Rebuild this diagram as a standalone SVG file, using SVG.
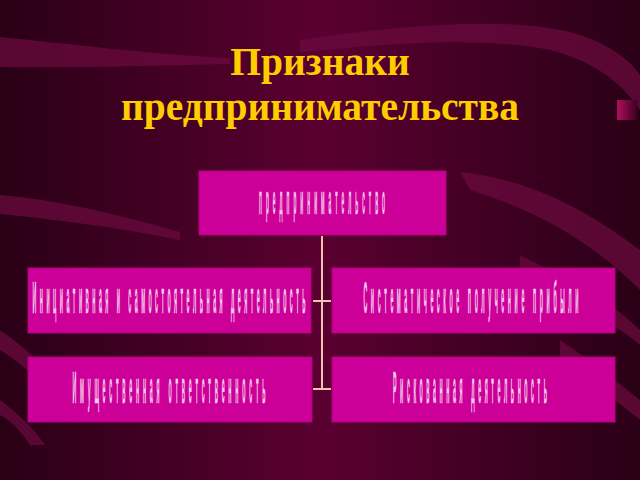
<svg xmlns="http://www.w3.org/2000/svg" width="640" height="480" viewBox="0 0 640 480">
<style>
.title{font-family:"Liberation Serif","Times New Roman",serif;font-weight:bold;font-size:39.5px;fill:#ffcc00;text-anchor:middle}
.box{fill:#cc0099;stroke:#b3007f;stroke-width:1}
.lbl{font-family:"Liberation Sans",Arial,sans-serif;font-weight:bold;fill:#f6cdea;stroke:#f6cdea;stroke-width:0.4;vector-effect:non-scaling-stroke;text-anchor:middle}
.conn{stroke:#f0c4b0;stroke-width:2;fill:none}
.rib{fill:#6a0a3e;opacity:0.75}
</style>
<defs>
<linearGradient id="bg" x1="0" y1="0" x2="1" y2="0">
<stop offset="0" stop-color="#2a0016"/>
<stop offset="0.5" stop-color="#5a0030"/>
<stop offset="1" stop-color="#2a0016"/>
</linearGradient>
<linearGradient id="tab" x1="0" y1="0" x2="1" y2="0">
<stop offset="0" stop-color="#b0105e"/>
<stop offset="1" stop-color="#3a0020"/>
</linearGradient>
</defs>
<g id="background">
<rect width="640" height="480" fill="url(#bg)"/>
<path class="rib" d="M0,37 C80,45 160,55 230,58 L230,64 C150,66 70,68 0,67 Z"/>
<path class="rib" d="M300,40 C400,25 520,15 580,35 C610,45 630,60 640,75 L640,110 C620,80 590,60 550,50 C470,35 380,45 300,52 Z"/>
<path class="rib" d="M0,195 C60,200 120,215 180,232 L180,240 C120,228 60,220 0,214 Z"/>
<path class="rib" d="M460,172 C540,180 600,220 640,250 L640,290 C600,250 550,215 470,190 Z"/>
<path class="rib" d="M520,255 C570,280 610,300 640,330 L640,345 C610,320 570,300 520,275 Z"/>
<path class="rib" d="M560,340 C590,360 615,380 640,400 L640,420 C615,400 590,380 560,365 Z"/>
<path class="rib" d="M0,330 C30,350 60,380 90,420 L70,420 C50,390 25,365 0,350 Z"/>
<path class="rib" d="M0,400 C20,415 35,430 45,445 L30,445 C20,430 10,420 0,415 Z"/>
<rect x="617" y="100" width="20" height="20" fill="url(#tab)"/>
</g>
<g id="title">
<text class="title" x="320" y="75">Признаки</text>
<text class="title" x="320" y="120">предпринимательства</text>
</g>
<g id="connectors">
<path class="conn" d="M322,236 V390"/>
<path class="conn" d="M313,301 H331"/>
<path class="conn" d="M313,389 H331"/>
</g>
<g id="node-top">
<rect class="box" x="199" y="171" width="247" height="64"/>
<text class="lbl" transform="translate(322,214) scale(0.12,1)" x="0" y="0" font-size="40" textLength="1050" lengthAdjust="spacing">предпринимательство</text>
</g>
<g id="node-initiative">
<rect class="box" x="28" y="268" width="283" height="65"/>
<text class="lbl" transform="translate(169,313) scale(0.12,1)" x="0" y="0" font-size="44" textLength="2275" lengthAdjust="spacing">Инициативная и самостоятельная деятельность</text>
</g>
<g id="node-profit">
<rect class="box" x="332" y="268" width="283" height="65"/>
<text class="lbl" transform="translate(471,313) scale(0.12,1)" x="0" y="0" font-size="44" textLength="1792" lengthAdjust="spacing">Систематическое получение прибыли</text>
</g>
<g id="node-property">
<rect class="box" x="28" y="357" width="284" height="65"/>
<text class="lbl" transform="translate(169,403) scale(0.12,1)" x="0" y="0" font-size="44" textLength="1608" lengthAdjust="spacing">Имущественная ответственность</text>
</g>
<g id="node-risk">
<rect class="box" x="332" y="357" width="283" height="65"/>
<text class="lbl" transform="translate(470,403) scale(0.12,1)" x="0" y="0" font-size="44" textLength="1283" lengthAdjust="spacing">Рискованная деятельность</text>
</g>
</svg>
